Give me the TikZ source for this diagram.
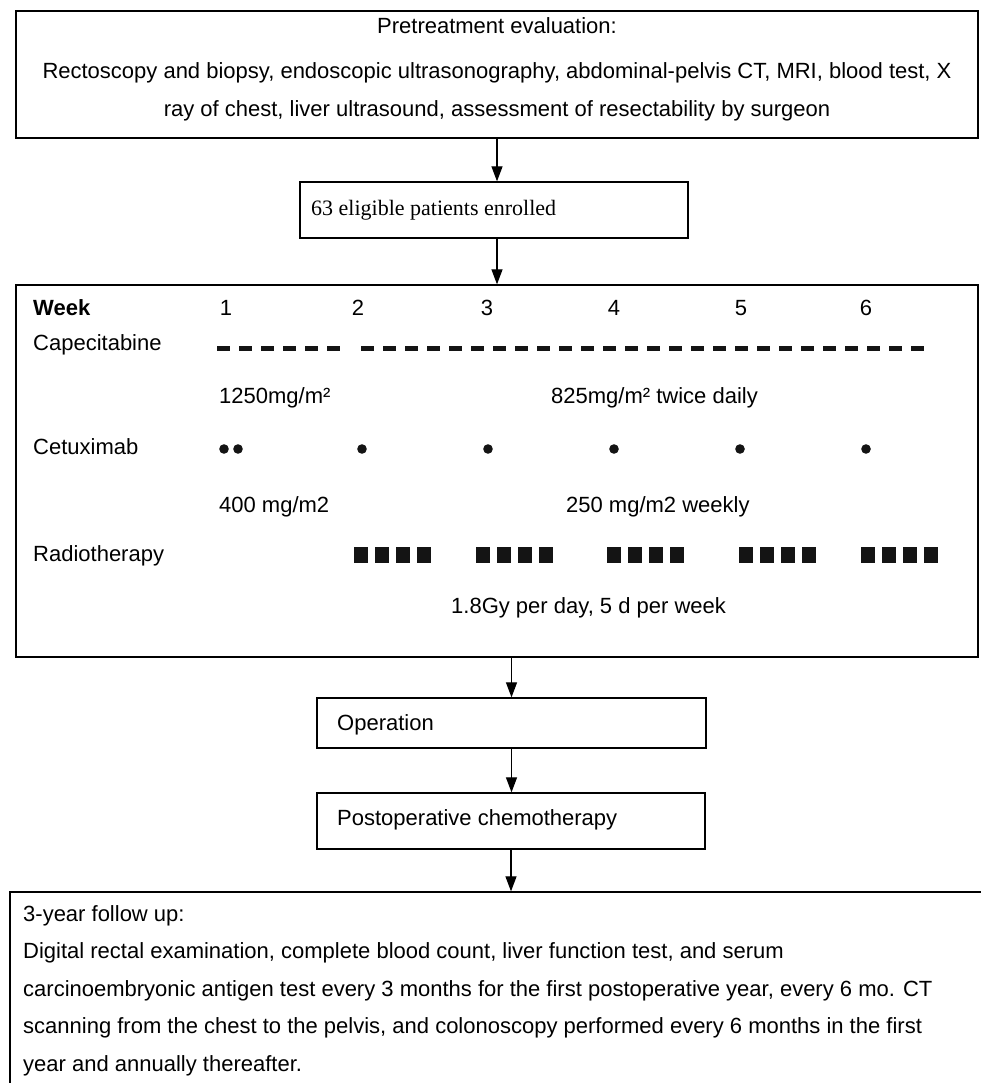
\documentclass[tikz,border=0pt]{standalone}
\usepackage{fontspec}
\setmainfont{Liberation Sans}
\newfontfamily\serifface{Liberation Serif}
\usetikzlibrary{arrows.meta}
\begin{document}
\begin{tikzpicture}[x=1pt,y=-1pt,
  box/.style={draw,line width=1.3pt,inner sep=0pt},
  txt/.style={inner sep=0pt,anchor=base west,font=\fontsize{22}{26}\selectfont},
  ctxt/.style={inner sep=0pt,anchor=base,font=\fontsize{22}{26}\selectfont},
  arr/.style={line width=1.2pt,-{Triangle[length=15pt,width=11pt]}},
  doseglyph/.style={fill=black!92},
]
\useasboundingbox (0,0) rectangle (981,1083);
\clip (0,0) rectangle (981,1083);

% boxes
\node[box,minimum width=962pt,minimum height=127pt] (pre) at (497,74.5) {};
\node[box,minimum width=388pt,minimum height=56pt] (enr) at (494,210) {};
\node[box,minimum width=962pt,minimum height=372pt] (plan) at (497,471) {};
\node[box,minimum width=389pt,minimum height=50pt] (op) at (511.5,723) {};
\node[box,minimum width=388pt,minimum height=56pt] (post) at (511,821) {};
\node[box,minimum width=1000pt,minimum height=300pt] (fu) at (510,1042) {};

% box 1 text
\node[ctxt] (pre1) at (497,34) {Pretreatment evaluation:};
\node[ctxt] (pre2) at (497,79) {Rectoscopy and biopsy, endoscopic ultrasonography, abdominal-pelvis CT, MRI, blood test, X};
\node[ctxt] (pre3) at (497,117) {ray of chest, liver ultrasound, assessment of resectability by surgeon};

% box 2 text
\node[inner sep=0pt,anchor=base west,font=\serifface\fontsize{22}{26}\selectfont] (enrt) at (311,215) {63 eligible patients enrolled};

% box 3 content
\node[txt,font=\bfseries\fontsize{22}{26}\selectfont] (wk) at (33,315) {Week};
\foreach \n/\x in {1/226,2/358,3/487,4/614,5/741,6/866}
  \node[ctxt] (w\n) at (\x,315) {\n};
\node[txt] (cap) at (33,350) {Capecitabine};
\node[txt] (cap1) at (219,403) {1250mg/m²};
\node[txt] (cap2) at (551,403) {825mg/m² twice daily};
\node[txt] (cet) at (33,454) {Cetuximab};
\node[txt] (cet1) at (219,512) {400 mg/m2};
\node[txt] (cet2) at (566,512) {250 mg/m2 weekly};
\node[txt] (rad) at (33,561) {Radiotherapy};
\node[txt] (rad1) at (451,613) {1.8Gy per day, 5 d per week};

% capecitabine dashes
\foreach \k in {0,...,5}
  \fill[doseglyph] ({217+22*\k},345.8) rectangle ++(13,5.5);
\foreach \k in {0,...,25}
  \fill[doseglyph] ({360.7+22*\k},345.8) rectangle ++(13,5.5);

% cetuximab dots
\foreach \x in {224,238,362,488,614,740,866}
  \fill[doseglyph] (\x,449) circle (4.8);

% radiotherapy bars
\foreach \s in {354,476,607,739,861}
  \foreach \k in {0,...,3}
    \fill[doseglyph] ({\s+21*\k},547) rectangle ++(14,16);

% box 4 text
\node[txt] (fu1) at (23,921) {3-year follow up:};
\node[txt] (fu2) at (23,958.5) {Digital rectal examination, complete blood count, liver function test, and serum};
\node[txt] (fu3) at (23,996) {carcinoembryonic antigen test every 3 months for the first postoperative year, every 6 mo. CT};
\node[txt] (fu4) at (23,1033.5) {scanning from the chest to the pelvis, and colonoscopy performed every 6 months in the first};
\node[txt] (fu5) at (23,1071) {year and annually thereafter.};

% op / post text
\node[txt] (opt) at (337,730) {Operation};
\node[txt] (postt) at (337,825) {Postoperative chemotherapy};

% connectors
\draw[arr] (pre.south) -- (pre.south |- enr.north);
\draw[arr] (plan.north |- enr.south) -- (plan.north);
\draw[arr] (plan.south -| op.north) -- (op.north);
\draw[arr] (op.south) -- (op.south |- post.north);
\draw[arr] (post.south) -- (post.south |- fu.north);
\end{tikzpicture}
\end{document}
